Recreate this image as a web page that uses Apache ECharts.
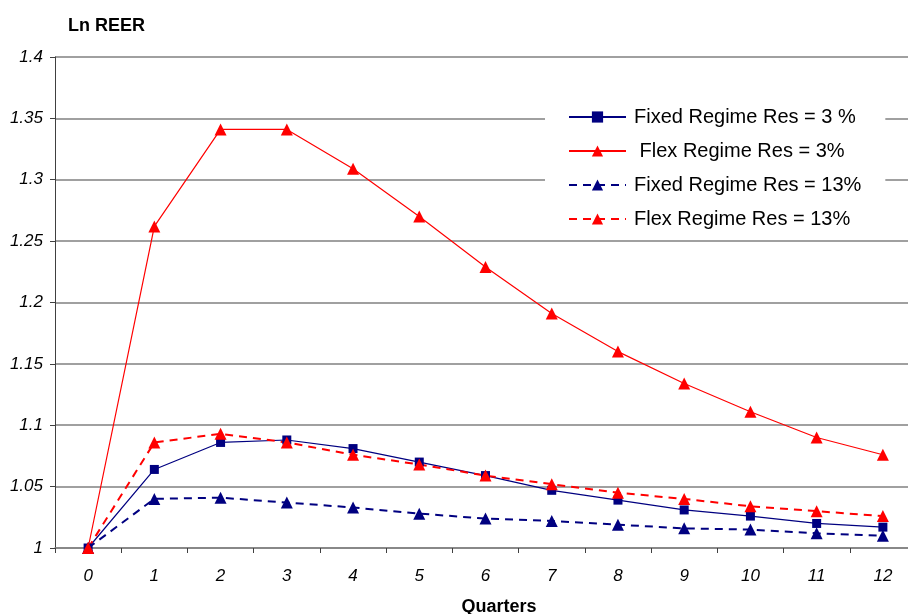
<!DOCTYPE html>
<html><head><meta charset="utf-8">
<script src="https://cdn.jsdelivr.net/npm/echarts@6/dist/echarts.min.js"></script>
<style>html,body{margin:0;padding:0;background:#fff;overflow:hidden;width:908px;height:614px}#c{width:916px;height:614px}</style>
</head><body><div id="c"></div>
<script>
const quarters = ['0','1','2','3','4','5','6','7','8','9','10','11','12'];
const fixedRes3 = [1.0, 1.064, 1.086, 1.088, 1.081, 1.070, 1.059, 1.047, 1.039, 1.031, 1.026, 1.020, 1.017];
const flexRes3 = [1.0, 1.262, 1.341, 1.341, 1.309, 1.270, 1.229, 1.191, 1.160, 1.134, 1.111, 1.090, 1.076];
const fixedRes13 = [1.0, 1.040, 1.041, 1.037, 1.033, 1.028, 1.024, 1.022, 1.019, 1.016, 1.015, 1.012, 1.010];
const flexRes13 = [1.0, 1.086, 1.093, 1.086, 1.076, 1.068, 1.059, 1.052, 1.045, 1.040, 1.034, 1.030, 1.026];
const seriesNames = ['Fixed Regime Res = 3 %', ' Flex Regime Res = 3%', 'Fixed Regime Res = 13%', 'Flex Regime Res = 13%'];
const yTicks = ['1','1.05','1.1','1.15','1.2','1.25','1.3','1.35','1.4'];

const navy = '#000080', red = '#ff0000';
const font = 'Liberation Sans, Arial, sans-serif';
const chart = echarts.init(document.getElementById('c'));
function mk(name, data, color, dashed, sym, size) {
  return {
    name, type: 'line', data, symbol: sym, symbolSize: size,
    itemStyle: { color },
    lineStyle: { color, width: dashed ? 2 : 1.2, type: dashed ? [8, 6] : 'solid' },
    emphasis: { disabled: true }, animation: false
  };
}
chart.setOption({
  animation: false,
  textStyle: { fontFamily: font },
  grid: { left: 55, right: 0, top: 57, bottom: 66, containLabel: false },
  title: [
    { text: 'Ln REER', left: 63, top: 12, textStyle: { fontFamily: font, fontSize: 18, fontWeight: 'bold', color: '#000' } },
    { text: 'Quarters', left: 494, top: 593, textAlign: 'center', textStyle: { fontFamily: font, fontSize: 18, fontWeight: 'bold', color: '#000' } }
  ],
  legend: {
    orient: 'vertical', left: 545, top: 99,
    backgroundColor: '#fff', padding: [8, 24, 8, 23],
    itemWidth: 57, itemHeight: 14, itemGap: 14,
    textStyle: { fontFamily: font, fontSize: 20, color: '#000', padding: [0, 0, 0, 3] },
    data: seriesNames
  },
  xAxis: {
    type: 'category', data: quarters, boundaryGap: true,
    axisLine: { lineStyle: { color: '#808080', width: 1.5 } },
    axisTick: { show: true, length: 5, lineStyle: { color: '#404040' } },
    axisLabel: { fontFamily: font, fontSize: 17, fontStyle: 'italic', color: '#000', margin: 20 },
    splitLine: { show: false }
  },
  yAxis: {
    type: 'value', min: 1, max: 1.4, interval: 0.05,
    axisLine: { show: true, lineStyle: { color: '#404040', width: 1 } },
    axisTick: { show: true, length: 5, lineStyle: { color: '#404040' } },
    axisLabel: { fontFamily: font, fontSize: 17, fontStyle: 'italic', color: '#000', margin: 12,
      formatter: v => yTicks[Math.round((v - 1) / 0.05)] },
    splitLine: { show: true, lineStyle: { color: '#808080', width: 1.5 } }
  },
  series: [
    mk(seriesNames[0], fixedRes3, navy, false, 'rect', 9),
    mk(seriesNames[1], flexRes3, red, false, 'triangle', 12),
    mk(seriesNames[2], fixedRes13, navy, true, 'triangle', 12),
    mk(seriesNames[3], flexRes13, red, true, 'triangle', 12)
  ]
});
</script></body></html>
